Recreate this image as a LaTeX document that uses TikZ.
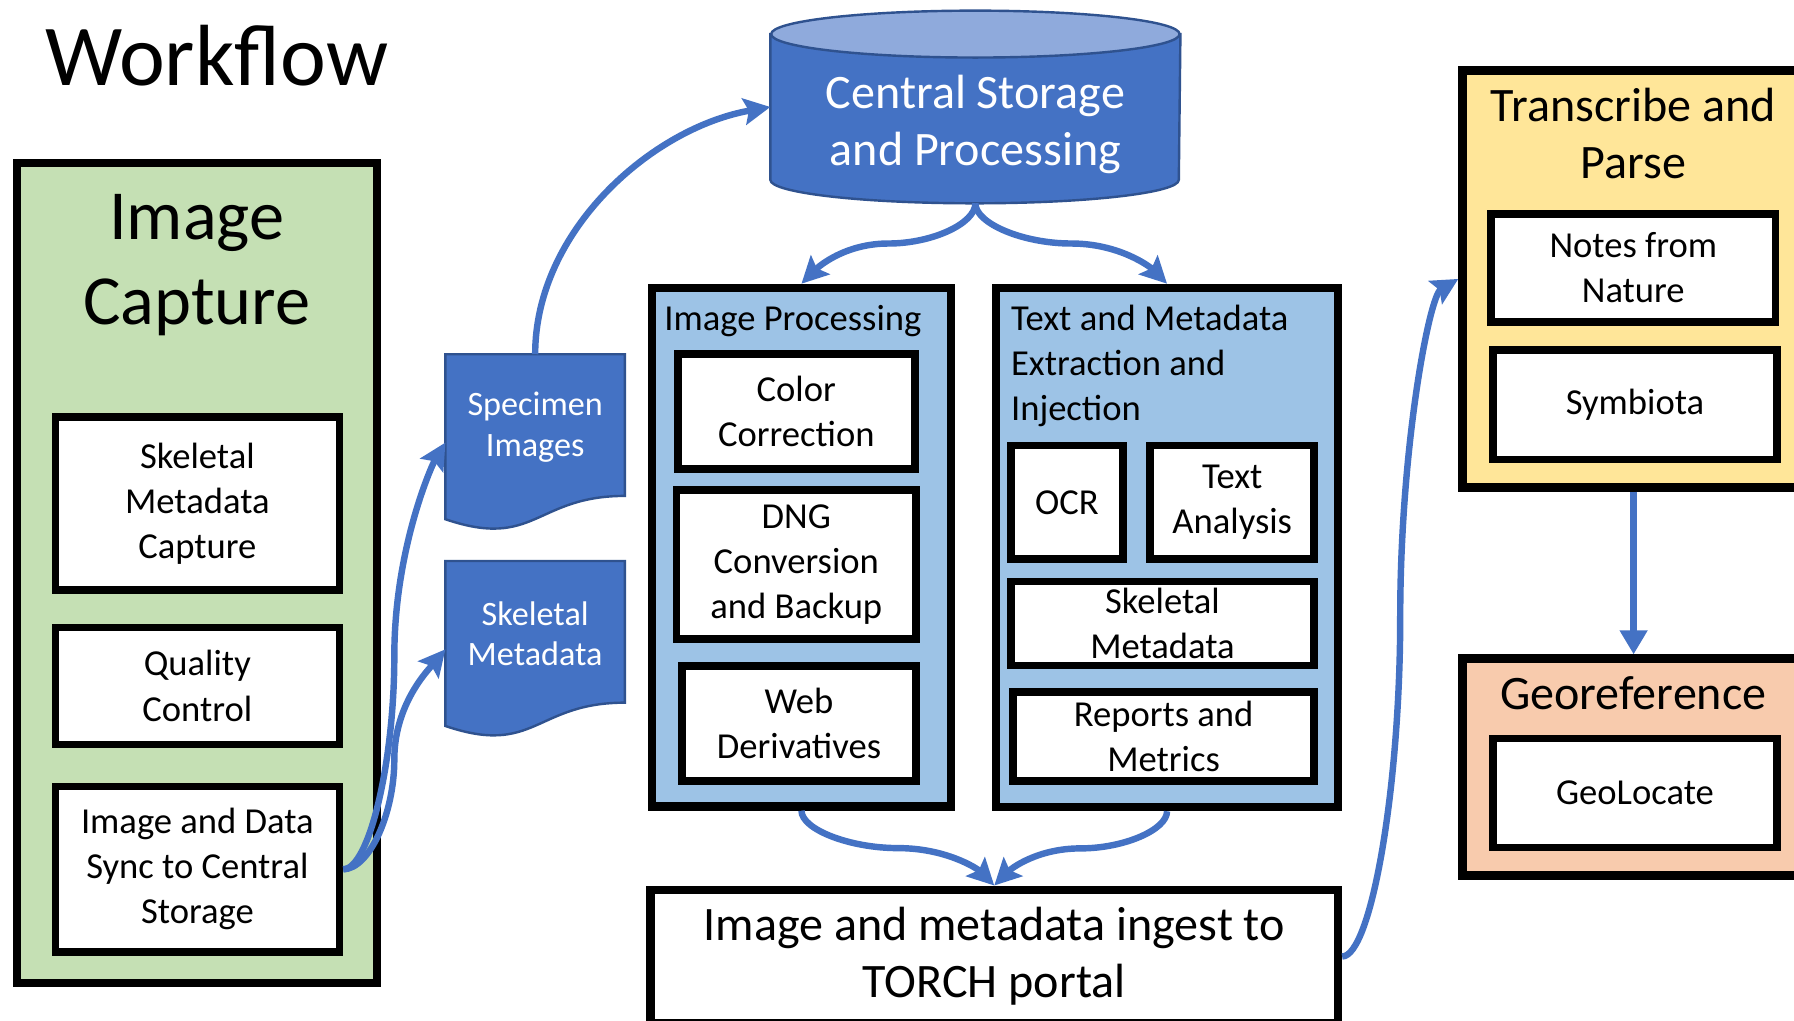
\documentclass[tikz,border=0pt]{standalone}
\usepackage{fontspec}
\setmainfont{Carlito}
\usetikzlibrary{arrows.meta,calc}
\definecolor{capgreen}{HTML}{C5E0B4}
\definecolor{procblue}{HTML}{9DC3E6}
\definecolor{flowblue}{HTML}{4472C4}
\definecolor{flowdark}{HTML}{2F528F}
\definecolor{storetop}{HTML}{8FAADC}
\definecolor{parseyellow}{HTML}{FFE699}
\definecolor{geopeach}{HTML}{F8CBAD}
\newcommand{\fsTitle}{\fontsize{21.6}{26}\selectfont}
\newcommand{\fsStage}{\fontsize{17.5}{21.2}\selectfont}
\newcommand{\fsLarge}{\fontsize{11.95}{14.2}\selectfont}
\newcommand{\fsBody}{\fontsize{9.1}{11.2}\selectfont}
\newcommand{\fsDoc}{\fontsize{8.5}{10.1}\selectfont}
\tikzset{
  boxsize/.style 2 args={minimum width=#1cm, minimum height=#2cm},
  stagebox/.style={draw=black, line width=2.1pt, inner sep=0pt},
  taskbox/.style={draw=black, fill=white, line width=1.9pt, inner sep=0pt,
    align=center, font=\fsBody},
  docbox/.style={inner sep=0pt, boxsize={1.555}{1.53}},
  docfill/.style={fill=flowblue, draw=flowdark, line width=0.6pt},
  doctext/.style={text=white, align=center, font=\fsDoc, inner sep=0pt},
  storefill/.style={fill=flowblue, draw=flowdark, line width=0.6pt},
  flowln/.style={-{Stealth[length=6.6pt,width=6.6pt,inset=1.2pt]}, line width=1.6pt, flowblue},
  stepln/.style={-{Triangle[length=6pt,width=6.6pt]}, line width=1.9pt, flowblue},
}
% document sheet with a wavy lower edge, drawn over a docbox node
\newcommand{\docshape}[1]{%
  \filldraw[docfill] (#1.north west) -- (#1.north east)
    -- ($(#1.north east)!0.802!(#1.south east)$)
    .. controls ($(#1.north)!0.802!(#1.south)$) and ($(#1.north)!1.107!(#1.south)$)
    .. ($(#1.north west)!0.934!(#1.south west)$) -- cycle;
}

\begin{document}
\begin{tikzpicture}
    \path[use as bounding box] (0,0) rectangle (15.68,-8.92);
    \fill[white] (0,0) rectangle (15.68,-8.92);
    \clip (0,0) rectangle (15.68,-8.92);

    \node[anchor=base west, inner sep=0pt, font=\fsTitle] (wftitle) at (0.39,-0.75) {Workflow};

    % image capture column
    \node[stagebox, fill=capgreen, boxsize={3.147}{7.167}] (capture) at (1.72,-5.01) {};
    \node[align=center, inner sep=0pt, font=\fsStage] (captitle) at (1.72,-2.316) {Image\\Capture};
    \node[taskbox, boxsize={2.483}{1.513}] (capmeta) at (1.725,-4.40) {Skeletal\\Metadata\\Capture};
    \node[taskbox, boxsize={2.483}{1.023}] (capqc) at (1.725,-5.995) {Quality\\Control};
    \node[taskbox, boxsize={2.483}{1.448}] (capsync) at (1.725,-7.5975)
      {Image and Data\\Sync to Central\\Storage};

    % outputs of the capture step
    \node[docbox] (specimg) at (4.6775,-3.868) {};
    \docshape{specimg}
    \node[doctext] (specimgtxt) at ([yshift=0.135cm]specimg.center) {Specimen\\Images};
    \node[docbox] (skelmeta) at (4.6775,-5.675) {};
    \docshape{skelmeta}
    \node[doctext] (skelmetatxt) at ([yshift=0.135cm]skelmeta.center) {Skeletal\\Metadata};

    % central storage
    \node[inner sep=0pt, boxsize={3.57}{1.67}] (central) at (8.525,-0.935) {};
    \filldraw[storefill] ([yshift=-0.205cm]central.north west)
      -- ([yshift=0.205cm]central.south west)
      arc[start angle=180, end angle=360, x radius=1.785cm, y radius=0.205cm]
      -- ([yshift=-0.205cm]central.north east) -- cycle;
    \filldraw[storefill, fill=storetop] ([yshift=-0.205cm]central.north)
      ellipse [x radius=1.785cm, y radius=0.205cm];
    \node[text=white, align=center, inner sep=0pt, font=\fsLarge] (centraltxt)
      at ([yshift=-0.15cm]central.center) {Central Storage\\and Processing};

    % image processing
    \node[stagebox, fill=procblue, boxsize={2.617}{4.532}] (improc) at (7.005,-4.7825) {};
    \node[anchor=base west, inner sep=0pt, font=\fsBody] (improctitle) at (5.80,-2.885) {Image Processing};
    \node[taskbox, boxsize={2.073}{1.003}] (colorcorr) at (6.96,-3.595) {Color\\Correction};
    \node[taskbox, boxsize={2.093}{1.303}] (dngconv) at (6.96,-4.935) {DNG\\Conversion\\and Backup};
    \node[taskbox, boxsize={2.047}{1.003}] (webderiv) at (6.983,-6.325) {Web\\Derivatives};

    % text and metadata
    \node[stagebox, fill=procblue, boxsize={2.987}{4.537}] (textmeta) at (10.20,-4.785) {};
    \node[anchor=west, align=left, inner sep=0pt, font=\fsBody] (textmetatitle) at (8.83,-3.195)
      {Text and Metadata\\Extraction and\\Injection};
    \node[taskbox, boxsize={0.983}{0.993}] (ocr) at (9.325,-4.39) {OCR};
    \node[taskbox, boxsize={1.433}{0.993}] (textanal) at (10.77,-4.39) {Text\\Analysis};
    \node[taskbox, boxsize={2.653}{0.733}] (skelmd) at (10.16,-5.45) {Skeletal\\Metadata};
    \node[taskbox, boxsize={2.633}{0.778}] (reports) at (10.17,-6.4375) {Reports and\\Metrics};

    % portal ingest
    \node[stagebox, fill=white, align=center, font=\fsLarge, boxsize={6.007}{1.167}] (ingest)
      at (8.69,-8.36) {Image and metadata ingest to\\TORCH portal};

    % right: transcription and georeferencing
    \node[stagebox, fill=parseyellow, boxsize={2.991}{3.643}] (transcribe) at (14.278,-2.438) {};
    \node[align=center, inner sep=0pt, font=\fsLarge] (transtitle) at (14.275,-1.17) {Transcribe and\\Parse};
    \node[taskbox, boxsize={2.483}{0.944}] (notes) at (14.275,-2.34) {Notes from\\Nature};
    \node[taskbox, boxsize={2.484}{0.956}] (symbiota) at (14.29,-3.539) {Symbiota};
    \node[stagebox, fill=geopeach, boxsize={2.991}{1.897}] (georef) at (14.278,-6.705) {};
    \node[anchor=base, inner sep=0pt, font=\fsLarge] (georeftitle) at (14.275,-6.205) {Georeference};
    \node[taskbox, boxsize={2.484}{0.953}] (geoloc) at (14.29,-6.93) {GeoLocate};

    % connectors
    \draw[flowln] (capsync.east) .. controls +(0.225,0) and +(0,-0.932)
      .. ($(capsync.east)!0.5!(specimg.west)$) .. controls +(0,0.932) and +(-0.12,-0.2) .. (specimg.west);
    \draw[flowln] (capsync.east) .. controls +(0.225,0) and +(0,-0.481)
      .. ($(capsync.east)!0.5!(skelmeta.west)$) .. controls +(0,0.481) and +(-0.15,-0.18) .. (skelmeta.west);
    \draw[flowln] (specimg.north) .. controls +(0,1.084) and +(-1.03,-0.18) .. (central.west);
    \draw[flowln] (central.south) .. controls +(0,-0.1775) and +(0.38,0)
      .. ($(central.south)!0.5!(improc.north)$) .. controls +(-0.38,0) and +(0.15,0.15) .. (improc.north);
    \draw[flowln] (central.south) .. controls +(0,-0.1775) and +(-0.419,0)
      .. ($(central.south)!0.5!(textmeta.north)$) .. controls +(0.419,0) and +(-0.15,0.15) .. (textmeta.north);
    \draw[flowln] (improc.south) .. controls +(0,-0.164) and +(-0.421,0)
      .. ($(improc.south)!0.5!(ingest.north)$) .. controls +(0.421,0) and +(-0.15,0.15) .. (ingest.north);
    \draw[flowln] (textmeta.south) .. controls +(0,-0.1625) and +(0.3775,0)
      .. ($(textmeta.south)!0.5!(ingest.north)$) .. controls +(-0.3775,0) and +(0.15,0.15) .. (ingest.north);
    \draw[flowln] (ingest.east) .. controls +(0.254,0) and +(0,-1.48)
      .. ($(ingest.east)!0.5!(transcribe.west)$) .. controls +(0,1.48) and +(-0.254,-0.15) .. (transcribe.west);
    \draw[stepln] (transcribe.south) -- (georef.north);
\end{tikzpicture}
\end{document}
